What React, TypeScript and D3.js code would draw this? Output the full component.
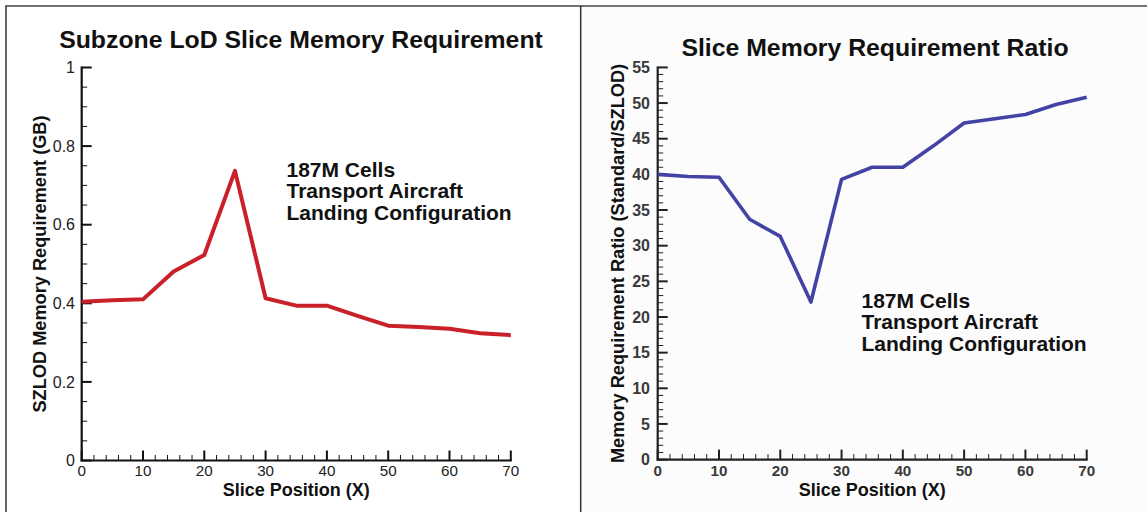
import React from "react";
import * as d3 from "d3";

// ---------- data ----------
const slicePositions = [0, 5, 10, 15, 20, 25, 30, 35, 40, 45, 50, 55, 60, 65, 70];
const szlodMemoryGB = [0.404, 0.408, 0.41, 0.481, 0.523, 0.737, 0.413, 0.394, 0.394, 0.368, 0.343, 0.34, 0.335, 0.324, 0.319];
const memoryRatio = [40.0, 39.7, 39.6, 33.7, 31.3, 22.1, 39.3, 41.0, 41.0, 44.0, 47.2, 47.8, 48.4, 49.8, 50.8];

const xTicks = [0, 10, 20, 30, 40, 50, 60, 70];
const leftYTicks = [0, 0.2, 0.4, 0.6, 0.8, 1];
const leftYTickLabels = ["0", "0.2", "0.4", "0.6", "0.8", "1"];
const rightYTicks = [0, 5, 10, 15, 20, 25, 30, 35, 40, 45, 50, 55];

const leftTitle = "Subzone LoD Slice Memory Requirement";
const rightTitle = "Slice Memory Requirement Ratio";
const leftYTitle = "SZLOD Memory Requirement (GB)";
const rightYTitle = "Memory Requirement Ratio (Standard/SZLOD)";
const xTitle = "Slice Position (X)";
const annotationLines = ["187M Cells", "Transport Aircraft", "Landing Configuration"];

const FONT = "'Liberation Sans', Arial, Helvetica, sans-serif";

type PanelProps = {
  xRange: [number, number];
  yRange: [number, number];
  yDomain: [number, number];
  yTicks: number[];
  yTickLabels: string[];
  yMinorStep: number;
  values: number[];
  color: string;
  lineWidth: number;
  axisColor: string;
  tickLabelColor: string;
  tickWeight: string;
  title: string;
  titleX: number;
  titleY: number;
  yTitle: string;
  yTitleX: number;
  annX: number;
  annY: number;
  yLabelRight: number;
};

function Panel(p: PanelProps) {
  const x = d3.scaleLinear().domain([0, 70]).range(p.xRange);
  const y = d3.scaleLinear().domain(p.yDomain).range(p.yRange);
  const line = d3
    .line<number>()
    .x((_, i) => x(slicePositions[i]))
    .y((d) => y(d));
  const x0 = p.xRange[0];
  const y0 = p.yRange[0];
  const xMinor = d3.range(0, 70.001, 2).filter((v) => v % 10 !== 0);
  const yMinor = d3
    .range(p.yDomain[0], p.yDomain[1] + 1e-9, p.yMinorStep)
    .filter((v) => !p.yTicks.some((t) => Math.abs(t - v) < 1e-9));
  const major = 10;
  const minor = 5.5;
  const plotMidX = (p.xRange[0] + p.xRange[1]) / 2;
  const plotMidY = (p.yRange[0] + p.yRange[1]) / 2;
  return (
    <g fontFamily={FONT}>
      <text x={p.titleX} y={p.titleY} textAnchor="middle" fontSize={24.8} fontWeight="bold" fill="#111">
        {p.title}
      </text>
      {/* axes lines */}
      <line x1={x0} x2={x0} y1={p.yRange[1] - 1} y2={y0 + 1} stroke={p.axisColor} strokeWidth={2.2} />
      <line x1={x0 - 1} x2={p.xRange[1] + 1} y1={y0} y2={y0} stroke={p.axisColor} strokeWidth={2.2} />
      {/* y ticks */}
      {p.yTicks.map((t, i) => (
        <g key={"yt" + i}>
          <line x1={x0} x2={x0 + major} y1={y(t)} y2={y(t)} stroke={p.axisColor} strokeWidth={2} />
          <text
            x={p.yLabelRight}
            y={y(t)}
            dy="0.36em"
            textAnchor="end"
            fontSize={16}
            fontWeight={p.tickWeight}
            fill={p.tickLabelColor}
          >
            {p.yTickLabels[i]}
          </text>
        </g>
      ))}
      {yMinor.map((t, i) => (
        <line key={"ym" + i} x1={x0} x2={x0 + minor} y1={y(t)} y2={y(t)} stroke={p.axisColor} strokeWidth={1} />
      ))}
      {/* x ticks */}
      {xTicks.map((t, i) => (
        <g key={"xt" + i}>
          <line x1={x(t)} x2={x(t)} y1={y0} y2={y0 - major} stroke={p.axisColor} strokeWidth={2} />
          <text x={x(t)} y={476.2} textAnchor="middle" fontSize={15.2} fontWeight={p.tickWeight} fill={p.tickLabelColor}>
            {t}
          </text>
        </g>
      ))}
      {xMinor.map((t, i) => (
        <line key={"xm" + i} x1={x(t)} x2={x(t)} y1={y0} y2={y0 - minor} stroke={p.axisColor} strokeWidth={1} />
      ))}
      {/* data line */}
      <path
        d={line(p.values) || ""}
        fill="none"
        stroke={p.color}
        strokeWidth={p.lineWidth}
        strokeLinejoin="round"
        strokeLinecap="butt"
      />
      {/* titles */}
      <text x={plotMidX} y={496} textAnchor="middle" fontSize={18} fontWeight="bold" fill="#111">
        {xTitle}
      </text>
      <text
        transform={`translate(${p.yTitleX},${plotMidY}) rotate(-90)`}
        textAnchor="middle"
        fontSize={18.2}
        fontWeight="bold"
        fill="#111"
      >
        {p.yTitle}
      </text>
      {annotationLines.map((s, i) => (
        <text key={"an" + i} x={p.annX} y={p.annY + i * 21.3} fontSize={21} fontWeight="bold" fill="#111">
          {s}
        </text>
      ))}
    </g>
  );
}

export default function App() {
  return (
    <svg
      width={1147}
      height={512}
      style={{ position: "absolute", left: 0, top: 0, background: "#fff" }}
    >
      <rect x={0} y={0} width={1147} height={512} fill="#fff" />
      <rect x={581} y={6} width={566} height={506} fill="#fcfcfc" />
      {/* frames */}
      <line x1={6} x2={6} y1={5.5} y2={512} stroke="#333" strokeWidth={1.5} />
      <line x1={5.5} x2={1147} y1={6} y2={6} stroke="#444" strokeWidth={1.5} />
      <line x1={580.7} x2={580.7} y1={5.5} y2={512} stroke="#333" strokeWidth={1.5} />
      <Panel
        xRange={[81.7, 510.8]}
        yRange={[460.5, 67.5]}
        yDomain={[0, 1]}
        yTicks={leftYTicks}
        yTickLabels={leftYTickLabels}
        yMinorStep={0.05}
        values={szlodMemoryGB}
        color="#c9202a"
        lineWidth={4}
        axisColor="#111"
        tickLabelColor="#222"
        tickWeight="normal"
        title={leftTitle}
        titleX={301}
        titleY={48}
        yTitle={leftYTitle}
        yTitleX={46}
        annX={286.5}
        annY={177}
        yLabelRight={75}
      />
      <Panel
        xRange={[657.7, 1086.7]}
        yRange={[459.6, 67.4]}
        yDomain={[0, 55]}
        yTicks={rightYTicks}
        yTickLabels={rightYTicks.map(String)}
        yMinorStep={1}
        values={memoryRatio}
        color="#4343a6"
        lineWidth={3.6}
        axisColor="#222"
        tickLabelColor="#3a3a3a"
        tickWeight="600"
        title={rightTitle}
        titleX={875}
        titleY={56}
        yTitle={rightYTitle}
        yTitleX={624}
        annX={861.5}
        annY={308}
        yLabelRight={650}
      />
    </svg>
  );
}
